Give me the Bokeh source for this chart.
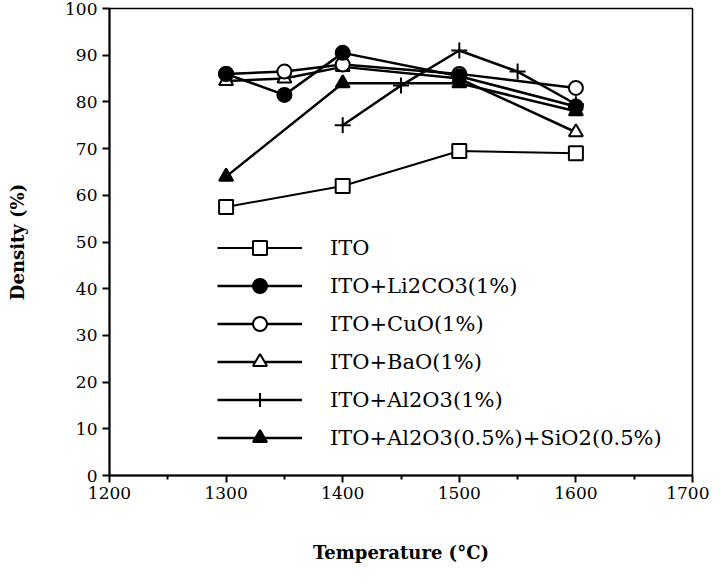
from bokeh.plotting import figure
from bokeh.models import Legend, LegendItem, FixedTicker, Range1d
from bokeh.embed import file_html
from bokeh.resources import INLINE

# ---- data ----
t_ito = [1300, 1400, 1500, 1600]
d_ito = [57.5, 62, 69.5, 69]

t_li = [1300, 1350, 1400, 1500, 1600]
d_li = [86, 81.5, 90.5, 85.5, 79]

t_cuo = [1300, 1350, 1400, 1500, 1600]
d_cuo = [86, 86.5, 88, 86, 83]

t_bao = [1300, 1350, 1400, 1500, 1600]
d_bao = [84.5, 85, 87.5, 85, 73.5]

t_al = [1400, 1450, 1500, 1550, 1600]
d_al = [75, 83.5, 91, 86.5, 79.5]

t_alsi = [1300, 1400, 1500, 1600]
d_alsi = [64, 84, 84, 78]

labels = ["ITO", "ITO+Li2CO3(1%)", "ITO+CuO(1%)", "ITO+BaO(1%)",
          "ITO+Al2O3(1%)", "ITO+Al2O3(0.5%)+SiO2(0.5%)"]

x_ticks = [1200, 1300, 1400, 1500, 1600, 1700]
x_minor = [1250, 1350, 1450, 1550, 1650]
y_ticks = [0, 10, 20, 30, 40, 50, 60, 70, 80, 90, 100]

x_title = "Temperature (°C)"
y_title = "Density (%)"

FONT = "DejaVu Serif"

p = figure(width=709, height=570, output_backend="svg", toolbar_location=None,
           x_range=Range1d(1200, 1700), y_range=Range1d(0, 100),
           min_border_left=109, min_border_right=17, min_border_top=8,
           min_border_bottom=95)

p.background_fill_color = "white"
p.border_fill_color = "white"
p.outline_line_color = "black"
p.outline_line_width = 1.5
p.xgrid.visible = False
p.ygrid.visible = False

# axes
p.xaxis.ticker = FixedTicker(ticks=x_ticks, minor_ticks=x_minor)
p.yaxis.ticker = FixedTicker(ticks=y_ticks)
for ax in (p.xaxis[0], p.yaxis[0]):
    ax.axis_line_width = 2
    ax.axis_line_color = "black"
    ax.major_tick_line_color = "black"
    ax.major_tick_line_width = 2
    ax.major_tick_out = 7
    ax.major_tick_in = 0
    ax.minor_tick_line_color = "black"
    ax.minor_tick_line_width = 2
    ax.minor_tick_out = 4
    ax.minor_tick_in = 0
    ax.major_label_text_font = FONT
    ax.major_label_text_font_size = "17px"
    ax.major_label_text_color = "black"
    ax.axis_label_text_font = FONT
    ax.axis_label_text_font_size = "18px"
    ax.axis_label_text_font_style = "bold"
    ax.axis_label_text_color = "black"
p.yaxis.minor_tick_line_color = None

p.xaxis.axis_label = x_title
p.yaxis.axis_label = y_title
p.xaxis.major_label_standoff = 4
p.xaxis.axis_label_standoff = 40
p.yaxis.major_label_standoff = 5
p.yaxis.axis_label_standoff = 34

LW = 2.5
MS = 14

def series(x, y, marker, fill, lw=LW, size=MS):
    r_line = p.line(x, y, line_color="black", line_width=lw)
    r_mark = p.scatter(x, y, marker=marker, size=size, line_color="black",
                       line_width=2, fill_color=fill)
    return [r_line, r_mark]

r_ito = series(t_ito, d_ito, "square", "white", lw=2)
r_alsi = series(t_alsi, d_alsi, "triangle", "black")
r_al = series(t_al, d_al, "cross", None, size=16)
r_bao = series(t_bao, d_bao, "triangle", "white")
r_cuo = series(t_cuo, d_cuo, "circle", "white")
r_li = series(t_li, d_li, "circle", "black")

items = [
    LegendItem(label=labels[0], renderers=r_ito),
    LegendItem(label=labels[1], renderers=r_li),
    LegendItem(label=labels[2], renderers=r_cuo),
    LegendItem(label=labels[3], renderers=r_bao),
    LegendItem(label=labels[4], renderers=r_al),
    LegendItem(label=labels[5], renderers=r_alsi),
]
legend = Legend(items=items, location=(108, 20),
                glyph_width=85, glyph_height=35, label_height=35,
                label_standoff=28, spacing=3, padding=0, margin=0,
                label_text_font=FONT, label_text_font_size="21px",
                label_text_color="black",
                background_fill_alpha=0, border_line_alpha=0)
p.add_layout(legend, "center")

open("out.html", "w").write(file_html(p, INLINE))
